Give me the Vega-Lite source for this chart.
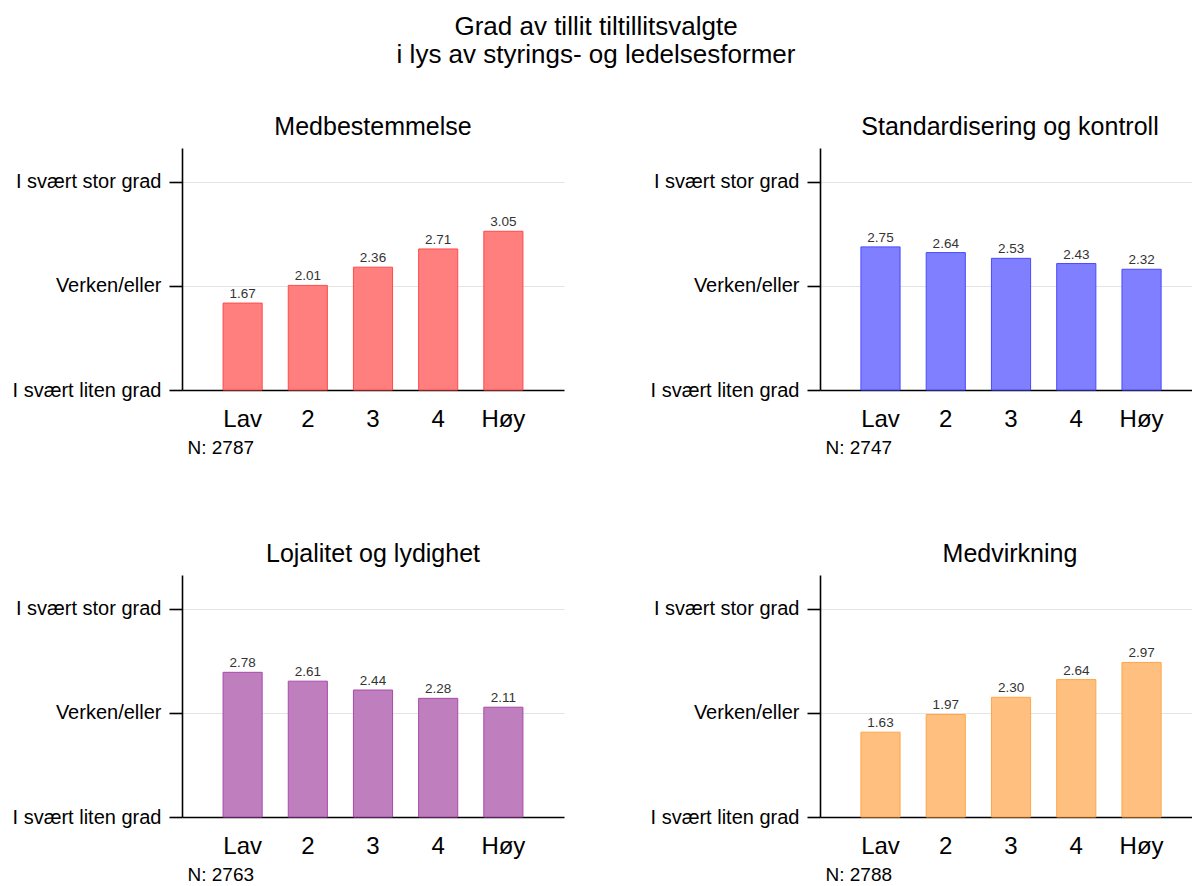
{
  "$schema": "https://vega.github.io/schema/vega-lite/v6.json",
  "padding": {"left": 12, "top": 14, "right": 0, "bottom": 0},
  "background": "#ffffff",
  "title": {
    "text": ["Grad av tillit tiltillitsvalgte", "i lys av styrings- og ledelsesformer"],
    "fontSize": 26, "font": "Liberation Sans", "fontWeight": "normal", "color": "#000000",
    "anchor": "middle", "lineHeight": 28, "offset": 47, "dx": -6
  },
  "data": {"values": [
    {"panel": "Medbestemmelse", "level": "Lav", "value": 1.67},
    {"panel": "Medbestemmelse", "level": "2", "value": 2.01},
    {"panel": "Medbestemmelse", "level": "3", "value": 2.36},
    {"panel": "Medbestemmelse", "level": "4", "value": 2.71},
    {"panel": "Medbestemmelse", "level": "Høy", "value": 3.05},
    {"panel": "Standardisering og kontroll", "level": "Lav", "value": 2.75},
    {"panel": "Standardisering og kontroll", "level": "2", "value": 2.64},
    {"panel": "Standardisering og kontroll", "level": "3", "value": 2.53},
    {"panel": "Standardisering og kontroll", "level": "4", "value": 2.43},
    {"panel": "Standardisering og kontroll", "level": "Høy", "value": 2.32},
    {"panel": "Lojalitet og lydighet", "level": "Lav", "value": 2.78},
    {"panel": "Lojalitet og lydighet", "level": "2", "value": 2.61},
    {"panel": "Lojalitet og lydighet", "level": "3", "value": 2.44},
    {"panel": "Lojalitet og lydighet", "level": "4", "value": 2.28},
    {"panel": "Lojalitet og lydighet", "level": "Høy", "value": 2.11},
    {"panel": "Medvirkning", "level": "Lav", "value": 1.63},
    {"panel": "Medvirkning", "level": "2", "value": 1.97},
    {"panel": "Medvirkning", "level": "3", "value": 2.30},
    {"panel": "Medvirkning", "level": "4", "value": 2.64},
    {"panel": "Medvirkning", "level": "Høy", "value": 2.97}
  ]},
  "columns": 2,
  "spacing": {"column": 86, "row": 85},
  "concat": [
    {
      "title": {"text": "Medbestemmelse"},
      "transform": [{"filter": "datum.panel === 'Medbestemmelse'"}],
      "width": 382, "height": 242,
      "encoding": {
        "x": {"field": "level", "type": "nominal", "sort": ["Lav", "2", "3", "4", "Høy"],
              "scale": {"paddingInner": 0.4, "paddingOuter": 0.63, "align": 0.5},
              "axis": {"title": "N: 2787"}},
        "y": {"field": "value", "type": "quantitative", "scale": {"domain": [0, 4.65], "nice": false, "zero": true},
              "axis": {"values": [0, 2, 4], "title": null, "labelExpr": "datum.value == 0 ? 'I svært liten grad' : datum.value == 2 ? 'Verken/eller' : 'I svært stor grad'"}}
      },
      "layer": [
        {"mark": {"type": "bar", "fill": "#FF7F7F", "stroke": "#FF4A4A", "strokeWidth": 1}},
        {"mark": {"type": "text", "dy": -5, "baseline": "alphabetic", "fontSize": 13.5, "color": "#333333", "font": "Liberation Sans"},
         "encoding": {"text": {"field": "value", "type": "quantitative", "format": ".2f"}}}
      ]
    },
    {
      "title": {"text": "Standardisering og kontroll", "dx": 4},
      "transform": [{"filter": "datum.panel === 'Standardisering og kontroll'"}],
      "width": 372, "height": 242,
      "encoding": {
        "x": {"field": "level", "type": "nominal", "sort": ["Lav", "2", "3", "4", "Høy"],
              "scale": {"paddingInner": 0.4, "paddingOuter": 0.55, "align": 0.57},
              "axis": {"title": "N: 2747"}},
        "y": {"field": "value", "type": "quantitative", "scale": {"domain": [0, 4.65], "nice": false, "zero": true},
              "axis": {"values": [0, 2, 4], "title": null, "labelExpr": "datum.value == 0 ? 'I svært liten grad' : datum.value == 2 ? 'Verken/eller' : 'I svært stor grad'"}}
      },
      "layer": [
        {"mark": {"type": "bar", "fill": "#7F7FFF", "stroke": "#4A4AFF", "strokeWidth": 1}},
        {"mark": {"type": "text", "dy": -5, "baseline": "alphabetic", "fontSize": 13.5, "color": "#333333", "font": "Liberation Sans"},
         "encoding": {"text": {"field": "value", "type": "quantitative", "format": ".2f"}}}
      ]
    },
    {
      "title": {"text": "Lojalitet og lydighet"},
      "transform": [{"filter": "datum.panel === 'Lojalitet og lydighet'"}],
      "width": 382, "height": 242,
      "encoding": {
        "x": {"field": "level", "type": "nominal", "sort": ["Lav", "2", "3", "4", "Høy"],
              "scale": {"paddingInner": 0.4, "paddingOuter": 0.63, "align": 0.5},
              "axis": {"title": "N: 2763"}},
        "y": {"field": "value", "type": "quantitative", "scale": {"domain": [0, 4.65], "nice": false, "zero": true},
              "axis": {"values": [0, 2, 4], "title": null, "labelExpr": "datum.value == 0 ? 'I svært liten grad' : datum.value == 2 ? 'Verken/eller' : 'I svært stor grad'"}}
      },
      "layer": [
        {"mark": {"type": "bar", "fill": "#BF7FBF", "stroke": "#A94AA9", "strokeWidth": 1}},
        {"mark": {"type": "text", "dy": -5, "baseline": "alphabetic", "fontSize": 13.5, "color": "#333333", "font": "Liberation Sans"},
         "encoding": {"text": {"field": "value", "type": "quantitative", "format": ".2f"}}}
      ]
    },
    {
      "title": {"text": "Medvirkning", "dx": 4},
      "transform": [{"filter": "datum.panel === 'Medvirkning'"}],
      "width": 372, "height": 242,
      "encoding": {
        "x": {"field": "level", "type": "nominal", "sort": ["Lav", "2", "3", "4", "Høy"],
              "scale": {"paddingInner": 0.4, "paddingOuter": 0.55, "align": 0.57},
              "axis": {"title": "N: 2788"}},
        "y": {"field": "value", "type": "quantitative", "scale": {"domain": [0, 4.65], "nice": false, "zero": true},
              "axis": {"values": [0, 2, 4], "title": null, "labelExpr": "datum.value == 0 ? 'I svært liten grad' : datum.value == 2 ? 'Verken/eller' : 'I svært stor grad'"}}
      },
      "layer": [
        {"mark": {"type": "bar", "fill": "#FFBF7F", "stroke": "#FFA54A", "strokeWidth": 1}},
        {"mark": {"type": "text", "dy": -5, "baseline": "alphabetic", "fontSize": 13.5, "color": "#333333", "font": "Liberation Sans"},
         "encoding": {"text": {"field": "value", "type": "quantitative", "format": ".2f"}}}
      ]
    }
  ],
  "config": {
    "view": {"stroke": null},
    "font": "Liberation Sans",
    "title": {"font": "Liberation Sans", "fontSize": 25, "fontWeight": "normal", "color": "#000000", "anchor": "middle", "baseline": "alphabetic", "offset": 8},
    "axis": {
      "labelFont": "Liberation Sans", "labelColor": "#000000",
      "domainColor": "#000000", "domainWidth": 1.6,
      "tickColor": "#000000", "tickWidth": 1.6,
      "gridColor": "#E4E4E4", "gridWidth": 1
    },
    "axisY": {"grid": true, "ticks": true, "tickSize": 13, "labelPadding": 8, "labelFontSize": 20, "domain": true},
    "axisX": {"grid": false, "ticks": false, "tickSize": 0, "labelAngle": 0, "labelFontSize": 24, "labelPadding": 17,
              "titleFont": "Liberation Sans", "titleFontSize": 19, "titleFontWeight": "normal", "titleColor": "#000000",
              "titleAnchor": "start", "titleAlign": "left", "titleX": 5, "titleY": 48, "titleBaseline": "top"}
  }
}
